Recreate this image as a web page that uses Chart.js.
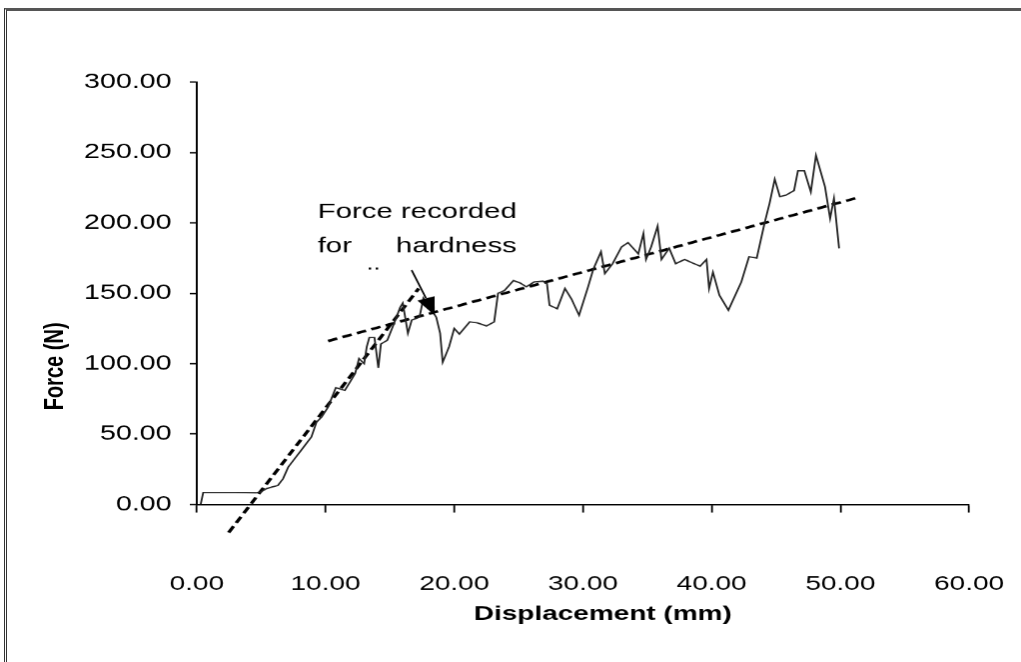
<!DOCTYPE html>
<html>
<head>
<meta charset="utf-8">
<title>Force vs displacement</title>
<script src="https://cdn.jsdelivr.net/npm/chart.js@4.4.1/dist/chart.umd.min.js"></script>
<style>
  html, body { margin: 0; padding: 0; background: #fff; overflow: hidden; }
  #wrap { position: relative; width: 1021px; height: 662px; }
  #frame {
    position: absolute; left: 4px; top: 8px; width: 1100px; height: 700px;
    border-left: 3px double #333; border-top: 3px solid #555;
    pointer-events: none;
  }
  #c { position: absolute; left: 0; top: 0; }
</style>
</head>
<body>
<div id="wrap">
  <canvas id="c" width="730" height="662" style="width:1021px;height:662px"></canvas>
  <div id="frame"></div>
</div>
<script>
// Measured load curve: displacement (mm) and force (N)
const displacement = [0.3, 0.5, 3.0, 4.6, 5.0, 5.4, 5.8, 6.3, 6.7, 7.1, 7.6, 8.1, 8.5, 8.9, 9.3, 9.7,
  10.2, 10.8, 11.5, 11.9, 12.3, 12.6, 13.0, 13.2, 13.4, 13.8, 14.1, 14.3, 14.8, 15.3, 15.8, 16.0,
  16.4, 16.7, 17.3, 17.6, 18.1, 18.6, 18.9, 19.1, 19.6, 20.0, 20.4, 21.2, 21.8, 22.5, 23.1, 23.4,
  23.9, 24.6, 25.1, 25.6, 26.2, 26.9, 27.2, 27.4, 28.0, 28.6, 29.1, 29.7, 30.4, 30.8, 31.4, 31.7,
  32.3, 33.0, 33.5, 34.3, 34.7, 34.9, 35.3, 35.8, 36.1, 36.7, 37.2, 37.9, 38.5, 39.1, 39.6, 39.8,
  40.1, 40.6, 41.3, 42.3, 42.9, 43.5, 44.1, 44.5, 44.9, 45.3, 45.8, 46.4, 46.7, 47.2, 47.7, 48.1,
  48.8, 49.2, 49.5, 49.9];
const force = [0, 8.5, 8.5, 8.3, 9.0, 11.2, 12.3, 13.5, 18.3, 26.5, 32.5, 38.4, 43.2, 47.9, 58.5, 62.1,
  69.2, 83.0, 81.0, 87.0, 93.0, 103.6, 100.0, 112.0, 118.6, 118.6, 97.0, 114.0, 116.6, 128.0, 140.0, 143.0,
  121.6, 131.0, 133.0, 146.5, 140.0, 133.0, 121.6, 101.0, 112.0, 125.0, 121.0, 129.7, 129.0, 126.8, 129.7, 150.0,
  152.0, 159.0, 157.4, 154.6, 158.0, 158.6, 157.0, 141.5, 139.0, 153.4, 146.0, 134.4, 154.6, 167.0, 179.5, 164.0,
  171.0, 183.0, 186.0, 178.0, 192.5, 174.0, 183.0, 197.7, 174.0, 182.0, 171.0, 174.0, 171.6, 169.3, 174.0, 153.4,
  165.0, 148.6, 138.0, 158.0, 176.0, 175.0, 199.6, 213.9, 231.0, 218.6, 219.8, 223.0, 237.0, 237.0, 222.0, 248.0,
  225.7, 203.0, 217.4, 181.9];

// Fitted lines: elastic (steep) and plastic (shallow) regions
const elasticFitX = [2.48, 17.24];
const elasticFitY = [-19.9, 153.4];
const plasticFitX = [10.2, 51.55];
const plasticFitY = [116.1, 218.4];

// Axis ticks
const xTicks = [0, 10, 20, 30, 40, 50, 60];
const yTicks = [0, 50, 100, 150, 200, 250, 300];

// Callout arrow (data coordinates: tail, tip)
const arrowTail = [16.69, 166.4];
const arrowTip = [18.48, 134.4];

const FONT = "'Liberation Sans', Arial, sans-serif";

function pairs(xs, ys) { return xs.map((x, i) => ({ x: x, y: ys[i] })); }

const captions = {
  id: 'captions',
  afterDraw(chart) {
    const ctx = chart.ctx;
    const xs = chart.scales.x, ys = chart.scales.y;
    ctx.save();
    ctx.fillStyle = '#000';

    // axis titles
    ctx.font = 'bold 20px ' + FONT;
    ctx.textAlign = 'center';
    ctx.textBaseline = 'middle';
    ctx.fillText('Displacement (mm)', 431, 614);
    ctx.save();
    ctx.translate(39.5, 366);
    ctx.rotate(-Math.PI / 2);
    ctx.fillText('Force (N)', 0, 0);
    ctx.restore();

    // callout text
    ctx.font = '21px ' + FONT;
    ctx.textAlign = 'left';
    const line1 = 'Force recorded';
    const left = 227.1;
    ctx.fillText(line1, left, 212);
    ctx.fillText('for', left, 246);
    const right = left + ctx.measureText(line1).width;
    ctx.textAlign = 'right';
    ctx.fillText('hardness', right, 246);
    ctx.textAlign = 'left';
    ctx.font = '18px ' + FONT;
    ctx.fillText('..', 262, 264);

    // arrow
    const tx = xs.getPixelForValue(arrowTail[0]), ty = ys.getPixelForValue(arrowTail[1]);
    const hx = xs.getPixelForValue(arrowTip[0]), hy = ys.getPixelForValue(arrowTip[1]);
    const ang = Math.atan2(hy - ty, hx - tx);
    const hl = 18, hw = 6.5;
    const bx = hx - hl * Math.cos(ang), by = hy - hl * Math.sin(ang);
    ctx.strokeStyle = '#000';
    ctx.lineWidth = 1.3;
    ctx.beginPath();
    ctx.moveTo(tx, ty);
    ctx.lineTo(bx, by);
    ctx.stroke();
    ctx.beginPath();
    ctx.moveTo(hx, hy);
    ctx.lineTo(bx + hw * Math.sin(ang), by - hw * Math.cos(ang));
    ctx.lineTo(bx - hw * Math.sin(ang), by + hw * Math.cos(ang));
    ctx.closePath();
    ctx.fill();
    ctx.restore();
  }
};

new Chart(document.getElementById('c'), {
  type: 'line',
  data: {
    datasets: [
      {
        label: 'Force',
        data: pairs(displacement, force),
        borderColor: '#222',
        borderWidth: 1.3,
        pointRadius: 0,
        tension: 0,
        fill: false
      },
      {
        label: 'Elastic fit',
        data: pairs(elasticFitX, elasticFitY),
        borderColor: '#000',
        borderWidth: 2.6,
        borderDash: [7, 4],
        pointRadius: 0,
        clip: false,
        fill: false
      },
      {
        label: 'Plastic fit',
        data: pairs(plasticFitX, plasticFitY),
        borderColor: '#000',
        borderWidth: 2.6,
        borderDash: [7, 4],
        pointRadius: 0,
        clip: false,
        fill: false
      }
    ]
  },
  options: {
    responsive: false,
    animation: false,
    devicePixelRatio: 1.4,
    events: [],
    layout: { padding: { left: 0, right: 37.1, top: 82, bottom: 0 } },
    plugins: { legend: { display: false }, tooltip: { enabled: false } },
    scales: {
      x: {
        type: 'linear',
        min: xTicks[0],
        max: xTicks[xTicks.length - 1],
        afterFit(s) { s.height = 158; },
        afterBuildTicks(s) { s.ticks = xTicks.map(v => ({ value: v })); },
        ticks: {
          color: '#000',
          padding: 3,
          maxRotation: 0,
          font: { family: FONT, size: 20 },
          callback: v => Number(v).toFixed(2)
        },
        // long tick slot keeps the labels well below the axis; the dash shows only a short mark
        grid: { drawOnChartArea: false, drawTicks: true, tickLength: 65, tickBorderDash: [7, 400],
                tickColor: '#000', tickWidth: 1.3 },
        border: { display: true, color: '#000', width: 1.5 }
      },
      y: {
        type: 'linear',
        min: yTicks[0],
        max: yTicks[yTicks.length - 1],
        afterFit(s) { s.width = 140.7; },
        afterBuildTicks(s) { s.ticks = yTicks.map(v => ({ value: v })); },
        ticks: {
          color: '#000',
          padding: 13,
          font: { family: FONT, size: 20.5 },
          callback: v => Number(v).toFixed(2)
        },
        grid: { drawOnChartArea: false, drawTicks: true, tickLength: 5, tickColor: '#000', tickWidth: 1.3 },
        border: { display: true, color: '#000', width: 1.4 }
      }
    }
  },
  plugins: [captions]
});
</script>
</body>
</html>
